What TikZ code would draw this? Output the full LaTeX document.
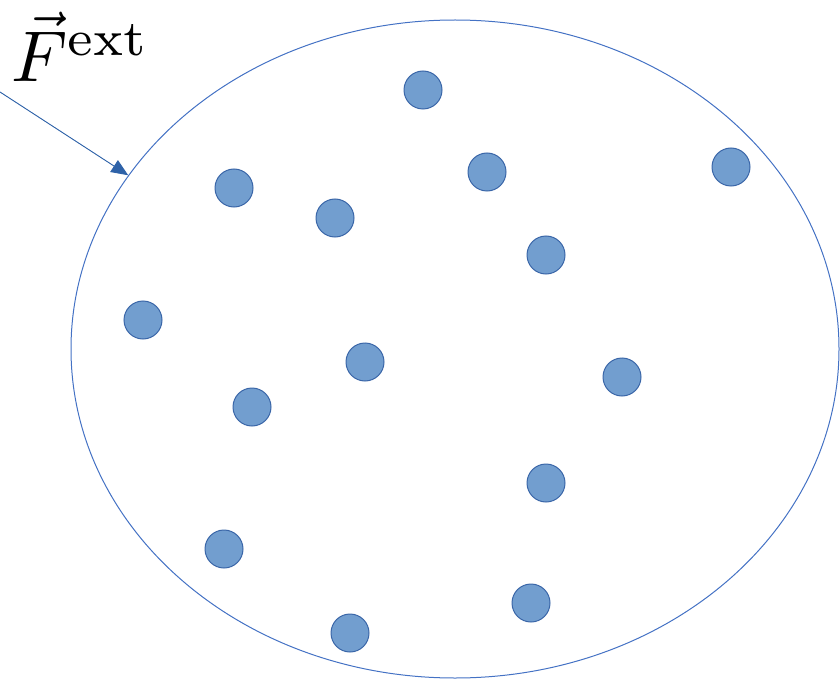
\documentclass[tikz,border=0pt]{standalone}
\usepackage{amsmath,graphicx}
\usetikzlibrary{arrows.meta,shapes.geometric}
\definecolor{rim}{HTML}{4472C4}
\definecolor{ballfill}{HTML}{729ECF}
\definecolor{balldraw}{HTML}{3A66A8}
\definecolor{pusharr}{HTML}{2E62A8}
\tikzset{bodyshape/.style={ellipse,draw=rim,line width=1pt,inner sep=0pt,minimum width=768pt,minimum height=658pt},ball/.style={circle,draw=balldraw,fill=ballfill,line width=1pt,inner sep=0pt,minimum size=38pt},forcearr/.style={-{Triangle[length=17pt,width=14pt]},draw=pusharr,fill=pusharr,line width=0.9pt}}

\begin{document}
\begin{tikzpicture}[x=1pt,y=-1pt]
\useasboundingbox (0,0) rectangle (840,679);
\node[bodyshape] (body) at (455,349) {};
\node[ball] (p1) at (423,90) {};
\node[ball] (p2) at (487,172) {};
\node[ball] (p3) at (731,167) {};
\node[ball] (p4) at (234,188) {};
\node[ball] (p5) at (335,218) {};
\node[ball] (p6) at (546,255) {};
\node[ball] (p7) at (143,320) {};
\node[ball] (p8) at (365,362) {};
\node[ball] (p9) at (622,377) {};
\node[ball] (p10) at (252,407) {};
\node[ball] (p11) at (546,483) {};
\node[ball] (p12) at (224,549) {};
\node[ball] (p13) at (531,603) {};
\node[ball] (p14) at (350,633) {};
\node[anchor=base west,inner sep=0pt] (fext) at (11,82) {\scalebox{7.2}{$\vec{F}^{\mathrm{ext}}$}};
\coordinate (from) at (0,92);
\draw[forcearr] (from) -- (body.152);
\end{tikzpicture}
\end{document}
